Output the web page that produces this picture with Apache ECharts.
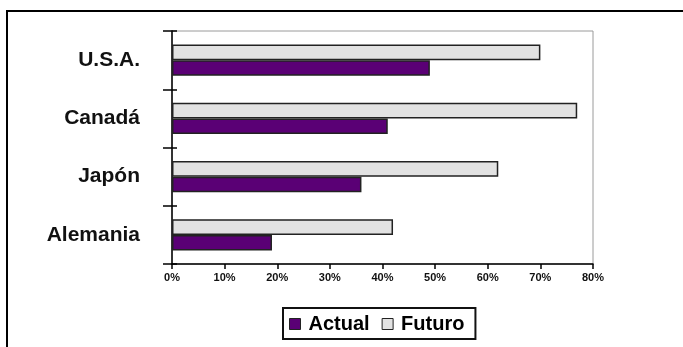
<!DOCTYPE html>
<html>
<head>
<meta charset="utf-8">
<script src="https://cdn.jsdelivr.net/npm/echarts@6/dist/echarts.min.js"></script>
<style>
  html, body { margin: 0; padding: 0; background: #fff; }
  #chart { width: 683px; height: 347px; }
</style>
</head>
<body>
<div id="chart"></div>
<script>
// Countries, listed bottom to top on the category axis
const paises = ['Alemania', 'Japón', 'Canadá', 'U.S.A.'];
// Percentages per country
const actual = [19, 36, 41, 49];
const futuro = [42, 62, 77, 70];
// Axis range and step (percent)
const xMin = 0;
const xMax = 80;
const xStep = 10;

const FONT = '"Liberation Sans", Arial, sans-serif';
const PURPLE = '#5a0075';
const GREY = '#e2e2e2';
const EDGE = '#222';

const chart = echarts.init(document.getElementById('chart'), null, { renderer: 'canvas' });

chart.setOption({
  backgroundColor: '#fff',
  animation: false,
  graphic: [
    {
      type: 'polyline',
      shape: { points: [[7, 347], [7, 11], [683, 11]] },
      style: { stroke: '#000', lineWidth: 2, fill: null },
      silent: true
    }
  ],
  grid: {
    left: 172, right: 90, top: 31, bottom: 83,
    show: true, borderColor: '#9a9a9a', borderWidth: 1, backgroundColor: '#fff'
  },
  legend: {
    data: ['Actual', 'Futuro'],
    left: 283, top: 308,
    orient: 'horizontal',
    borderColor: '#111', borderWidth: 2,
    padding: [6, 11, 5, 6],
    itemGap: 12,
    itemWidth: 11, itemHeight: 11,
    icon: 'rect',
    itemStyle: { borderColor: EDGE, borderWidth: 1 },
    textStyle: {
      fontFamily: FONT, fontWeight: 'bold', fontSize: 20, color: '#000',
      padding: [0, 0, 0, 3]
    }
  },
  xAxis: {
    type: 'value',
    min: xMin, max: xMax, interval: xStep,
    axisLine: { show: true, onZero: false, lineStyle: { color: '#000', width: 1.5 } },
    axisTick: { show: true, length: 5, lineStyle: { color: '#000', width: 1.5 } },
    splitLine: { show: false },
    axisLabel: {
      formatter: '{value}%',
      fontFamily: FONT, fontWeight: 'bold', fontSize: 11, color: '#111',
      margin: 8
    }
  },
  yAxis: [
    {
      type: 'category',
      data: paises,
      axisLine: { show: true, lineStyle: { color: '#000', width: 1.5 } },
      axisTick: { show: true, length: 9, lineStyle: { color: '#000', width: 1.5 } },
      axisLabel: {
        fontFamily: FONT, fontWeight: 'bold', fontSize: 21, color: '#111',
        margin: 32
      }
    },
    {
      // inward half of the crossing category ticks
      type: 'category',
      data: paises,
      position: 'left',
      offset: 0,
      axisLine: { show: false },
      axisTick: { show: true, inside: true, length: 5, lineStyle: { color: '#000', width: 1.5 } },
      axisLabel: { show: false }
    }
  ],
  series: [
    {
      // drawn upper in each band
      name: 'Futuro',
      type: 'bar',
      data: futuro,
      barGap: '0%',
      barCategoryGap: '46%',
      itemStyle: { color: GREY, borderColor: EDGE, borderWidth: 1.5 }
    },
    {
      name: 'Actual',
      type: 'bar',
      data: actual,
      barGap: '0%',
      barCategoryGap: '46%',
      itemStyle: { color: PURPLE, borderColor: EDGE, borderWidth: 1.5 }
    }
  ]
});
</script>
</body>
</html>
